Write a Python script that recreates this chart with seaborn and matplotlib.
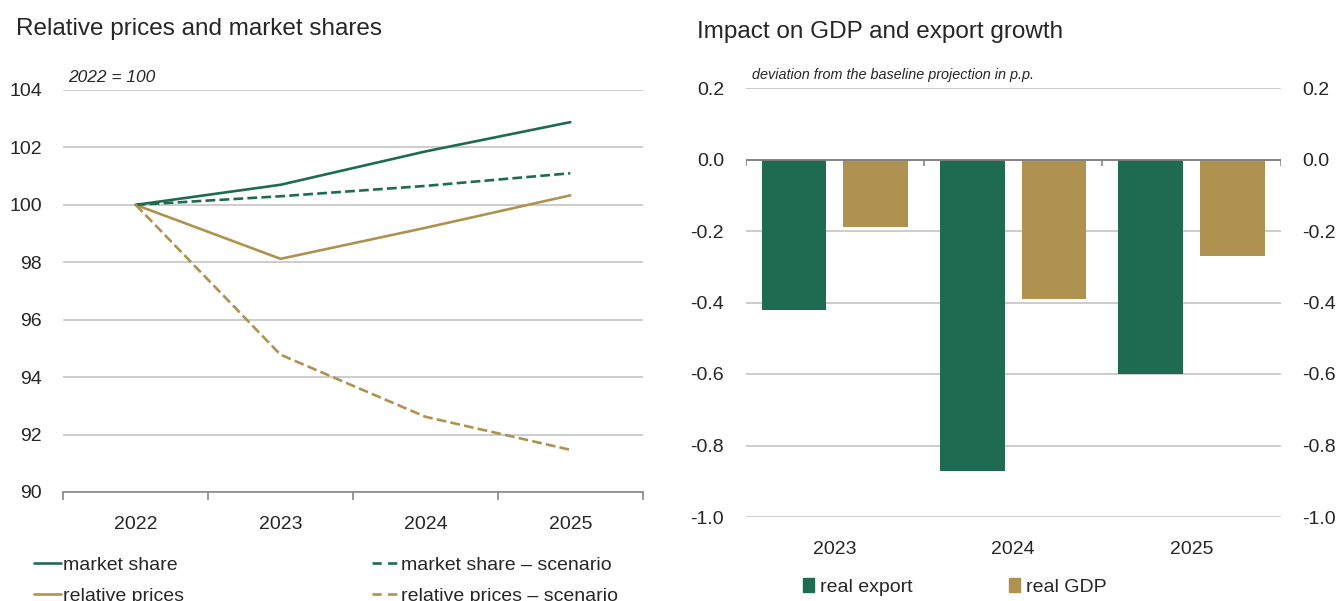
import numpy as np
import pandas as pd
import matplotlib
matplotlib.use("Agg")
import matplotlib.pyplot as plt
import seaborn as sns
from matplotlib import font_manager
from matplotlib.lines import Line2D
from matplotlib.patches import Patch
from matplotlib.ticker import FuncFormatter

# --- data -------------------------------------------------------------------
years_left = ["2022", "2023", "2024", "2025"]
market_share = [100.0, 100.70, 101.86, 102.88]
market_share_scen = [100.0, 100.30, 100.66, 101.10]
rel_prices = [100.0, 98.12, 99.20, 100.33]
rel_prices_scen = [100.0, 94.78, 92.62, 91.47]

years_right = ["2023", "2024", "2025"]
real_export = [-0.42, -0.87, -0.60]
real_gdp = [-0.19, -0.39, -0.27]

GREEN = "#1F6B52"
GOLD = "#B09250"
GRID = "#BFBFBF"
SPINE = "#7F7F7F"

sns.set_style("white")
names = {f.name for f in font_manager.fontManager.ttflist}
narrow = "Liberation Sans Narrow" in names
NARROW = "Liberation Sans Narrow" if narrow else "Liberation Sans"
NS = 16.5 if narrow else 14     # tick / legend size
plt.rcParams["font.family"] = ["Liberation Sans", "DejaVu Sans"]
plt.rcParams["axes.unicode_minus"] = False

fig = plt.figure(figsize=(13.41, 6.01), dpi=100)

# --- left panel: lines --------------------------------------------------------
axl = fig.add_axes([63.3 / 1341, 1 - 492 / 601, 579.4 / 1341, 402 / 601])
series = [
    ("market share", market_share, GREEN, "-"),
    ("relative prices", rel_prices, GOLD, "-"),
    ("market share \u2013 scenario", market_share_scen, GREEN, "--"),
    ("relative prices \u2013 scenario", rel_prices_scen, GOLD, "--"),
]
DASH = (3.5, 2.4)
for name, vals, col, ls in series:
    df = pd.DataFrame({"year": years_left, "value": vals})
    line_kw = dict(dashes=DASH) if ls == "--" else {}
    sns.lineplot(data=df, x="year", y="value", ax=axl, color=col,
                 linewidth=1.9, linestyle=ls, legend=False, **line_kw)

axl.set_xlim(-0.5, 3.5)
axl.set_ylim(90, 104)
axl.set_yticks(np.arange(90, 105, 2))
axl.yaxis.grid(True, color=GRID, linewidth=1.1)
axl.set_axisbelow(True)
for s in ["top", "right", "left"]:
    axl.spines[s].set_visible(False)
axl.spines["bottom"].set_color(SPINE)
axl.spines["bottom"].set_linewidth(1.1)
axl.set_xticks(range(len(years_left)))
axl.set_xticks(np.arange(-0.5, len(years_left), 1.0), minor=True)
axl.tick_params(axis="x", which="major", length=0, pad=17, labelsize=NS)
axl.tick_params(axis="x", which="minor", bottom=True, length=6, width=1.1,
                color=SPINE, direction="out")
axl.tick_params(axis="y", length=0, pad=15.5, labelsize=NS)
for t in axl.get_xticklabels() + axl.get_yticklabels():
    t.set_fontfamily([NARROW, "DejaVu Sans"])
axl.set_xlabel("")
axl.set_ylabel("")

fig.text(16 / 1341, 1 - 29 / 601, "Relative prices and market shares",
         fontsize=17.5, va="center", ha="left")
fig.text(68 / 1341, 1 - 77 / 601, "2022 = 100", fontsize=14.5 if narrow else 12.5,
         style="italic", va="center", ha="left", family=[NARROW, "DejaVu Sans"])

handles = [Line2D([], [], color=c, lw=1.9, linestyle=ls,
                  **({"dashes": DASH} if ls == "--" else {}))
           for _, _, c, ls in series]
labels = [s[0] for s in series]
fig.legend(handles, labels, ncol=2, loc="upper left",
           bbox_to_anchor=(34 / 1341, 1 - 556 / 601), frameon=False,
           prop={"family": [NARROW, "DejaVu Sans"], "size": NS},
           handlelength=1.4, handletextpad=0.1, columnspacing=9.65,
           labelspacing=0.7, borderaxespad=0, borderpad=0)

# --- right panel: bars --------------------------------------------------------
axr = fig.add_axes([745.7 / 1341, 1 - 517 / 601, 535 / 1341, 429 / 601])
bars = pd.DataFrame({
    "year": years_right * 2,
    "value": real_export + real_gdp,
    "series": ["real export"] * 3 + ["real GDP"] * 3,
})
sns.barplot(data=bars, x="year", y="value", hue="series", ax=axr,
            palette=[GREEN, GOLD], saturation=1, width=0.916, gap=0.21,
            edgecolor="none", legend=False)
axr.set_xlim(-0.5, 2.5)
axr.set_ylim(-1.0, 0.2)
axr.set_yticks(np.arange(-1.0, 0.21, 0.2))
axr.yaxis.set_major_formatter(FuncFormatter(lambda v, p: f"{v + 0.0:.1f}".replace("-0.0", "0.0")))
axr.yaxis.grid(True, color=GRID, linewidth=1.1)
axr.set_axisbelow(True)
for s in ["top", "right", "left", "bottom"]:
    axr.spines[s].set_visible(False)
axr.axhline(0, color=SPINE, linewidth=1.3, zorder=3)
axr.vlines(np.arange(-0.5, 3, 1.0), -0.017, 0, color=SPINE, linewidth=1.1, zorder=3)
axr.tick_params(axis="x", length=0, pad=17, labelsize=NS)
axr.tick_params(axis="y", length=0, pad=15.5, labelsize=NS,
                labelleft=True, labelright=True)
for t in axr.get_xticklabels() + axr.yaxis.get_ticklabels():
    t.set_fontfamily([NARROW, "DejaVu Sans"])
for tk in axr.yaxis.get_major_ticks():
    tk.label2.set_fontfamily([NARROW, "DejaVu Sans"])
axr.set_xlabel("")
axr.set_ylabel("")

fig.text(697 / 1341, 1 - 32 / 601, "Impact on GDP and export growth",
         fontsize=17.5, va="center", ha="left")
fig.text(752 / 1341, 1 - 75 / 601, "deviation from the baseline projection in p.p.",
         fontsize=14.5 if narrow else 10.4, style="italic", va="center", ha="left",
         family=[NARROW, "DejaVu Sans"])

bar_handles = [Patch(color=GREEN), Patch(color=GOLD)]
fig.legend(bar_handles, ["real export", "real GDP"], ncol=2, loc="center left",
           bbox_to_anchor=(803 / 1341, 1 - 587 / 601), frameon=False,
           prop={"family": [NARROW, "DejaVu Sans"], "size": NS},
           handlelength=0.55, handleheight=0.7, handletextpad=0.3,
           columnspacing=5.0, borderaxespad=0, borderpad=0)

fig.savefig("out.png", dpi=100)
